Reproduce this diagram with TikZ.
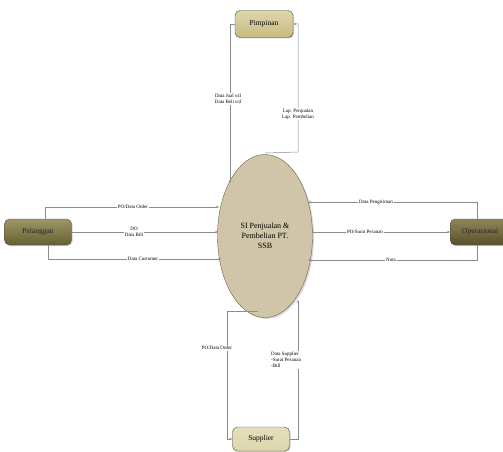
\documentclass[tikz,border=0pt]{standalone}
\usepackage{fontspec}
\setmainfont{Liberation Serif}
\usetikzlibrary{arrows.meta,shadows,shapes.geometric}
\definecolor{procfill}{RGB}{208,197,168}
\definecolor{procedge}{RGB}{110,98,72}
\definecolor{entA}{RGB}{200,186,130}
\definecolor{entB}{RGB}{100,96,52}
\definecolor{entC}{RGB}{88,80,45}
\definecolor{entD}{RGB}{222,214,170}
\definecolor{lineC}{RGB}{140,140,140}
\tikzset{
  entity/.style={draw=black!70, rounded corners=5pt, minimum height=26pt, inner sep=1pt, font=\fontsize{7.5}{8}\selectfont, drop shadow={shadow xshift=1pt,shadow yshift=-1pt,opacity=0.4}},
  proc/.style={ellipse, draw=procedge, fill=procfill, minimum width=95pt, minimum height=163pt, align=center, font=\fontsize{8}{10}\selectfont, drop shadow={shadow xshift=1.5pt,shadow yshift=-1.5pt,opacity=0.3}},
  flow/.style={draw=lineC, line width=0.5pt, -{Stealth[length=3pt,width=2.5pt]}},
  lab/.style={fill=white, inner sep=1pt, font=\fontsize{5}{6}\selectfont, align=center},
  labl/.style={fill=white, inner sep=1pt, font=\fontsize{5}{6}\selectfont, align=left}
}
\begin{document}
\begin{tikzpicture}[x=1pt,y=-1pt]
\useasboundingbox (0,0) rectangle (503,452);
% entities
\node[entity, top color=entD, bottom color=entA, minimum width=58pt, minimum height=27pt] (pim) at (264,24) {Pimpinan};
\node[entity, top color=entA!60!entB, bottom color=entB, text=black!85, minimum width=67pt] (pel) at (38,232) {Pelanggan};
\node[entity, top color=entA!50!entC, bottom color=entC, text=black!85, minimum width=60pt, anchor=west] (opr) at (450,232) {Operasional};
\node[entity, top color=entD!80!white, bottom color=entD, minimum width=57pt, minimum height=24pt] (sup) at (261,439) {Supplier};
% process
\node[proc] (p) at (265,236) {SI Penjualan \&\\Pembelian PT.\\SSB};
% coordinates
\coordinate (t1) at (230,24);
\coordinate (t2) at (298,24);
\coordinate (t3) at (298,152);
\coordinate (pt) at (265,153);
\coordinate (l1) at (45,207);
\coordinate (l3) at (48,259);
\coordinate (r1) at (477,202);
\coordinate (r3) at (477,260);
\coordinate (b1) at (227,311);
\coordinate (b0) at (258,311);
\coordinate (b2) at (298,300);
% top
\draw[flow] (pim.west) -- (t1) -- (230,183);
\draw[flow] (pt) -- (t3) -- (t2) -- (pim.east);
\node[lab] at (228,99) {Data Jual s/d\\Data Beli s/d};
\node[lab] at (298,114) {Lap. Penjualan\\Lap. Pembelian};
% left
\draw[flow] (pel.north -| l1) -- (l1) -- (219,207);
\draw[flow] (pel.east) -- (218,232);
\draw[flow] (pel.south -| l3) -- (l3) -- (221,259);
\node[lab] at (133,207) {PO/Data Order};
\node[lab] at (134,232) {DO\\Data Bill};
\node[lab] at (143,259) {Data Customer};
% right
\draw[flow] (opr.north -| r1) -- (r1) -- (308,202);
\draw[flow] (312,232) -- (opr.west);
\draw[flow] (opr.south -| r3) -- (r3) -- (308,260);
\node[lab] at (376,202) {Data Pengiriman};
\node[lab] at (365,232) {PO/Surat Pesanan};
\node[lab] at (391,260) {Nota};
% bottom
\draw[flow] (b0) -- (b1) -- (b1 |- sup.west) -- (sup.west);
\draw[flow] (sup.east) -- (sup.east -| b2) -- (b2);
\node[lab] at (217,348) {PO/Data Order};
\node[labl, anchor=west] at (270,360) {Data Supplier\\-Surat Pesanan\\-Bill};
\end{tikzpicture}
\end{document}
